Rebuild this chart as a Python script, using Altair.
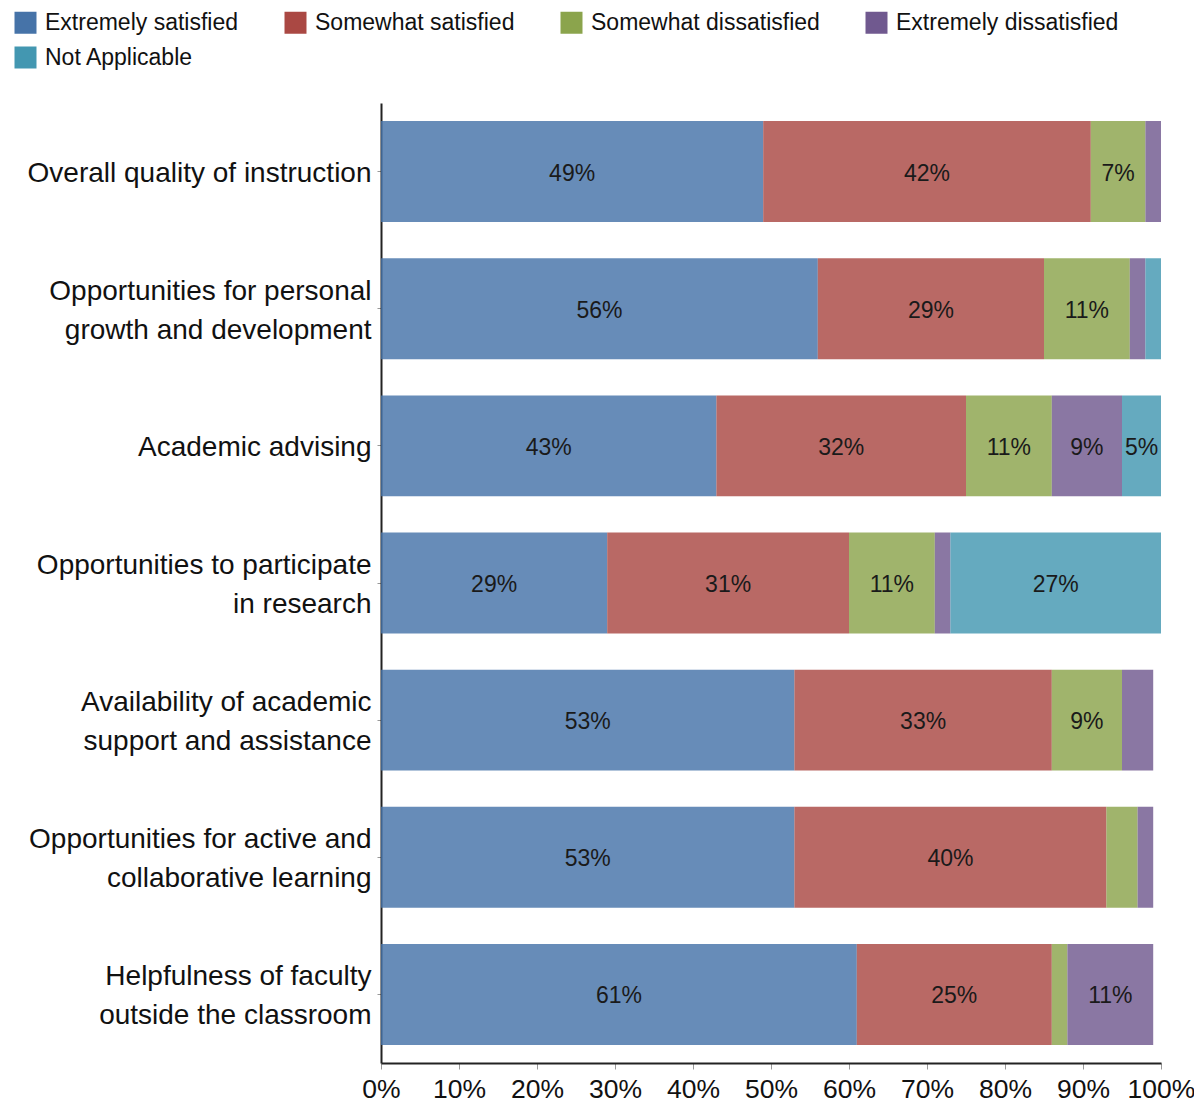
import altair as alt
import pandas as pd

categories = [
    "Overall quality of instruction",
    "Opportunities for personal|growth and development",
    "Academic advising",
    "Opportunities to participate|in research",
    "Availability of academic|support and assistance",
    "Opportunities for active and|collaborative learning",
    "Helpfulness of faculty|outside the classroom",
]
series = [
    "Extremely satisfied",
    "Somewhat satisfied",
    "Somewhat dissatisfied",
    "Extremely dissatisfied",
    "Not Applicable",
]
extremely_satisfied = [49, 56, 43, 29, 53, 53, 61]
somewhat_satisfied = [42, 29, 32, 31, 33, 40, 25]
somewhat_dissatisfied = [7, 11, 11, 11, 9, 4, 2]
extremely_dissatisfied = [2, 2, 9, 2, 4, 2, 11]
not_applicable = [0, 2, 5, 27, 0, 0, 0]
x_ticks = [0, 10, 20, 30, 40, 50, 60, 70, 80, 90, 100]

colors = ["#4673a8", "#aa4843", "#8ba44c", "#70598f", "#4397b1"]

values = [extremely_satisfied, somewhat_satisfied, somewhat_dissatisfied,
          extremely_dissatisfied, not_applicable]
rows = []
for i, cat in enumerate(categories):
    for j, s in enumerate(series):
        rows.append({"category": cat, "series": s, "order": j, "value": values[j][i]})
df = pd.DataFrame(rows)

FONT = "Liberation Sans, Arial, sans-serif"

base = alt.Chart(df).transform_stack(
    stack="value", groupby=["category"], as_=["x0", "x1"],
    sort=[alt.SortField("order", order="ascending")]
).transform_calculate(
    mid="(datum.x0 + datum.x1) / 2",
    label="datum.value + '%'"
)

yenc = alt.Y(
    "category:N", sort=categories, title=None,
    scale=alt.Scale(paddingInner=0.264, paddingOuter=0.132),
    axis=alt.Axis(
        labelExpr="split(datum.label, '|')",
        labelFont=FONT, labelFontSize=28, labelLineHeight=39,
        labelColor="#111111", labelLimit=0, labelPadding=6,
        domainColor="#222222", domainWidth=2,
        tickSize=4, tickColor="#999999",
        labelOffset={"condition": {"test": "indexof(datum.value, '|') >= 0",
                                   "value": -17}, "value": 2},
    ),
)

bars = base.mark_bar(opacity=0.82).encode(
    x=alt.X(
        "x0:Q", title=None,
        scale=alt.Scale(domain=[0, 100], nice=False),
        axis=alt.Axis(
            values=x_ticks, labelExpr="datum.value + '%'", grid=False,
            labelFont=FONT, labelFontSize=26.5, labelColor="#111111",
            labelPadding=7, domainColor="#222222", domainWidth=2,
            tickSize=6, tickColor="#999999", labelFlush=False,
        ),
    ),
    x2="x1:Q",
    y=yenc,
    color=alt.Color(
        "series:N",
        scale=alt.Scale(domain=series, range=colors),
        legend=alt.Legend(
            title=None, orient="none", legendX=-367, legendY=-92,
            direction="horizontal", columns=4, columnPadding=45,
            rowPadding=11, symbolType="square", symbolSize=484,
            symbolOpacity=1, symbolStrokeWidth=0, labelOffset=8,
            labelFont=FONT, labelFontSize=23, labelColor="#111111",
            padding=0, labelLimit=0,
        ),
    ),
    order=alt.Order("order:Q"),
)

text = base.transform_filter("datum.value >= 5").mark_text(
    font=FONT, fontSize=23, color="#1a1a1a", align="center",
    baseline="middle", dy=2
).encode(
    x=alt.X("mid:Q"),
    y=alt.Y("category:N", sort=categories),
    text="label:N",
)

chart = alt.layer(bars, text).properties(
    width=780, height=960,
    autosize=alt.AutoSizeParams(type="none"),
    padding={"left": 373, "top": 95, "right": 33, "bottom": 45},
).configure_view(stroke=None)

chart.save("out.html", embed_options={"renderer": "svg", "actions": False})
